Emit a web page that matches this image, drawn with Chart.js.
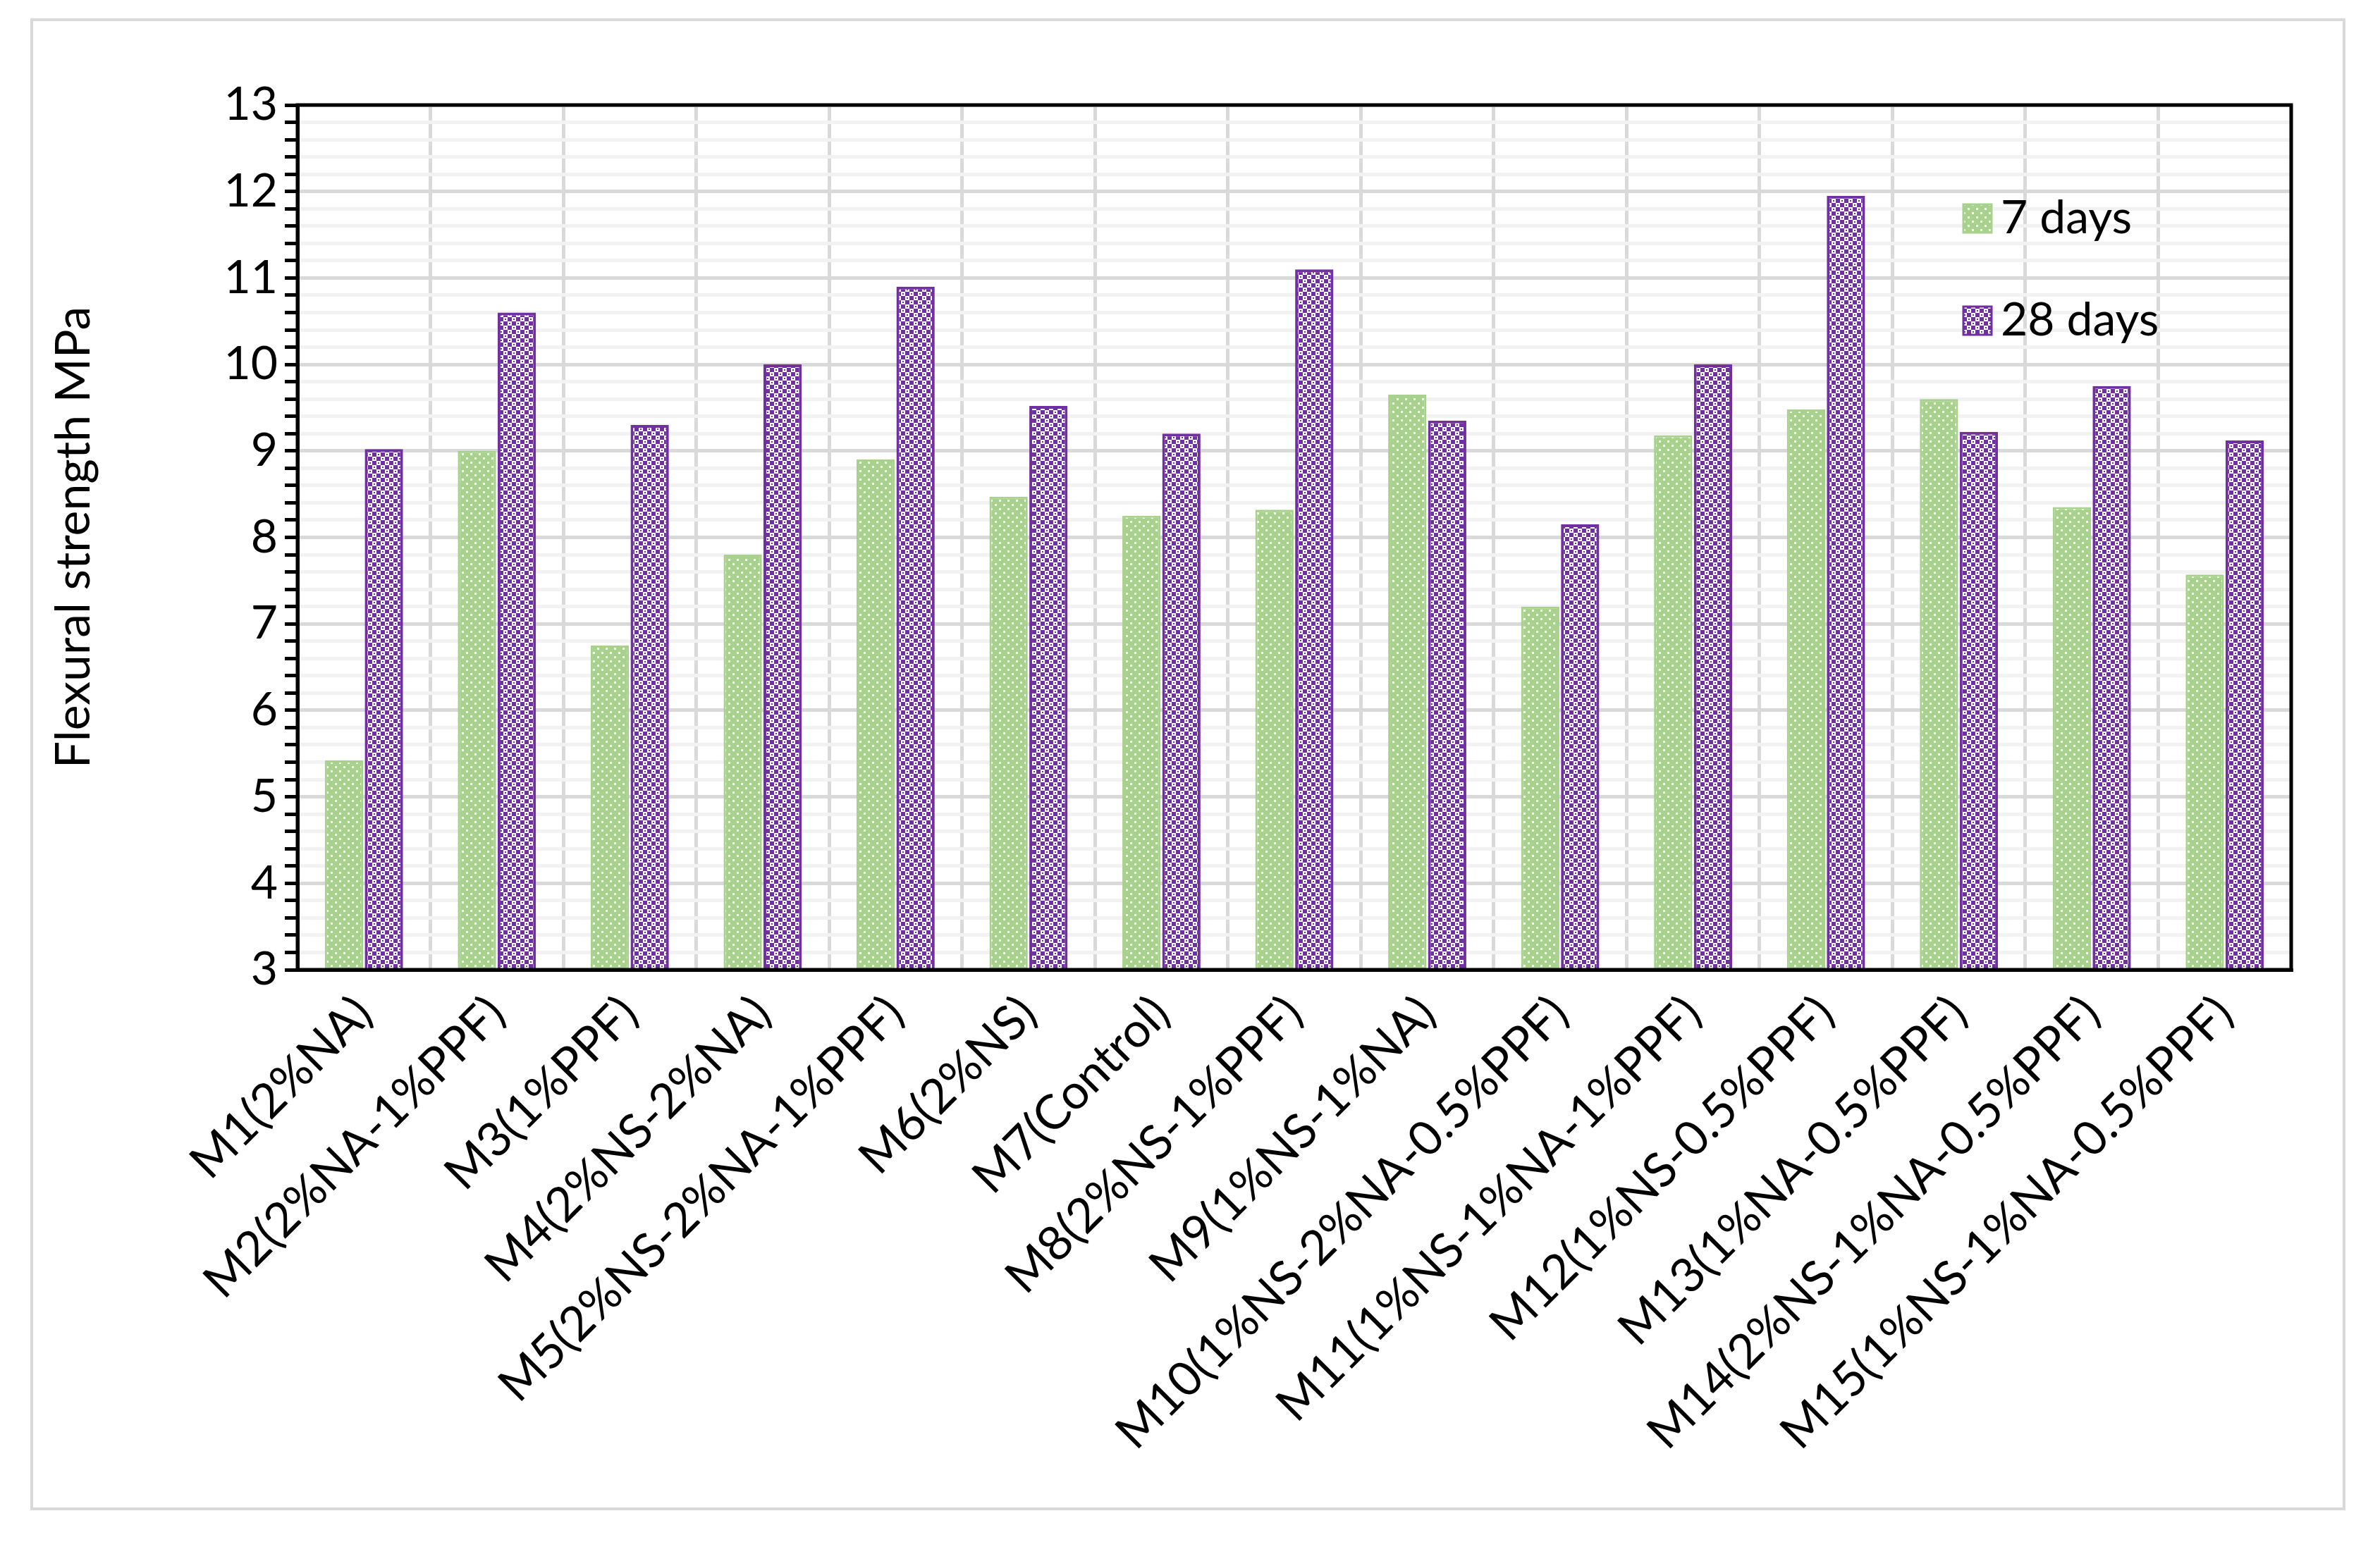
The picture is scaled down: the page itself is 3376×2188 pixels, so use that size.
<!DOCTYPE html>
<html><head><meta charset="utf-8">
<script src="https://cdn.jsdelivr.net/npm/chart.js@4.4.1/dist/chart.umd.min.js"></script>
<style>
html,body{margin:0;padding:0;background:#fff;}
#wrap{position:absolute;left:0;top:0;width:3376px;height:2188px;}
#frame{position:absolute;left:43px;top:26px;width:3284px;height:2117px;border:4px solid #d9d9d9;box-sizing:border-box;}
canvas{position:absolute;left:0;top:0;}
</style></head>
<body><div id="wrap"><div id="frame"></div><canvas id="c" width="3376" height="2188"></canvas></div>
<script>
const categories = ["M1(2%NA)","M2(2%NA-1%PPF)","M3(1%PPF)","M4(2%NS-2%NA)","M5(2%NS-2%NA-1%PPF)","M6(2%NS)","M7(Control)","M8(2%NS-1%PPF)","M9(1%NS-1%NA)","M10(1%NS-2%NA-0.5%PPF)","M11(1%NS-1%NA-1%PPF)","M12(1%NS-0.5%PPF)","M13(1%NA-0.5%PPF)","M14(2%NS-1%NA-0.5%PPF)","M15(1%NS-1%NA-0.5%PPF)"];
const days7 = [5.42,9.0,6.75,7.8,8.9,8.47,8.25,8.32,9.65,7.2,9.18,9.48,9.6,8.35,7.57];
const days28 = [9.02,10.6,9.3,10.0,10.9,9.52,9.2,11.1,9.35,8.15,10.0,11.95,9.22,9.75,9.12];
const seriesNames = ["7 days","28 days"];
const yTicks = [3,4,5,6,7,8,9,10,11,12,13];

const FONT = "Lato, 'Open Sans', sans-serif";
function makePattern(bg, fg, type){
  const p = document.createElement('canvas'); p.width = 12; p.height = 12;
  const g = p.getContext('2d');
  g.fillStyle = bg; g.fillRect(0,0,12,12);
  g.fillStyle = fg;
  if(type==='dots'){
    g.fillRect(1,1,3,3); g.fillRect(7,7,3,3);
  } else {
    g.fillRect(0,0,6,6); g.fillRect(6,6,6,6);
    g.fillStyle = bg; g.fillRect(2,2,2,2); g.fillRect(8,8,2,2);
  }
  return document.getElementById('c').getContext('2d').createPattern(p,'repeat');
}
const greenPat = makePattern('#a9d18e','#ffffff','dots');
const purplePat = makePattern('#7030a0','#ffffff','checks');

const framePlugin = {
  id:'framePlugin',
  afterDraw(chart){
    const {ctx, chartArea:a} = chart;
    ctx.save();
    ctx.strokeStyle = '#000'; ctx.lineWidth = 5;
    ctx.strokeRect(a.left, a.top, a.right-a.left, a.bottom-a.top);
    const items = [[greenPat,'#a9d18e',310],[purplePat,'#7030a0',455]];
    ctx.font = "66px " + FONT; ctx.textBaseline = 'middle';
    items.forEach((it,i)=>{
      ctx.fillStyle = it[0]; ctx.fillRect(2785, it[2]-20, 40, 40);
      ctx.strokeStyle = it[1]; ctx.lineWidth = 3; ctx.strokeRect(2785, it[2]-20, 40, 40);
      ctx.fillStyle = '#000'; ctx.fillText(seriesNames[i], 2838, it[2]);
    });
    ctx.restore();
  }
};

new Chart(document.getElementById('c'), {
  type:'bar',
  data:{labels:categories, datasets:[
    {label:seriesNames[0], data:days7, backgroundColor:greenPat, borderColor:'#a9d18e', borderWidth:3, categoryPercentage:0.6, barPercentage:0.96},
    {label:seriesNames[1], data:days28, backgroundColor:purplePat, borderColor:'#7030a0', borderWidth:4, categoryPercentage:0.6, barPercentage:0.96}
  ]},
  options:{
    responsive:false, animation:false, devicePixelRatio:1,
    layout:{padding:{left:60, right:126, top:149, bottom:0}},
    plugins:{legend:{display:false}, tooltip:{enabled:false}},
    scales:{
      x:{
        afterFit:s=>{s.height=812;},
        grid:{color:'#d9d9d9', lineWidth:5, offset:true, drawTicks:false},
        border:{color:'#000', width:5},
        ticks:{font:{size:68, family:FONT}, color:'#000', maxRotation:45, minRotation:45, padding:22, autoSkip:false}
      },
      y:{
        afterFit:s=>{s.width=362;},
        min:yTicks[0], max:yTicks[yTicks.length-1],
        grid:{
          color:c=>Number.isInteger(Math.round(c.tick.value*1000)/1000)?'#d9d9d9':'#f2f2f2',
          lineWidth:5, tickColor:'#000', tickLength:18, tickWidth:5
        },
        border:{color:'#000', width:5},
        ticks:{stepSize:0.2, autoSkip:false, font:{size:66, family:FONT}, color:'#000', padding:10,
          callback:v=>{const r=Math.round(v*1000)/1000; return yTicks.includes(r)?String(r):'';}},
        title:{display:true, text:'Flexural strength MPa', font:{size:68, family:FONT}, color:'#000', padding:{bottom:40}}
      }
    }
  },
  plugins:[framePlugin]
});
</script></body></html>
